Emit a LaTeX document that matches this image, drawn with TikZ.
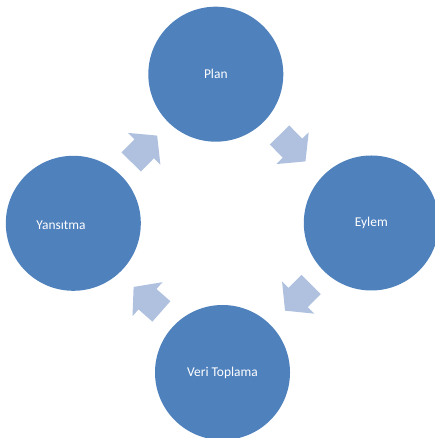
\documentclass[tikz,border=0pt]{standalone}
\usepackage{fontspec}
\setmainfont{Carlito}
\definecolor{stageblue}{HTML}{4F81BD}
\definecolor{arrowblue}{HTML}{AFC1DF}
\begin{document}
\begin{tikzpicture}[x=1bp,y=1bp,
  stage/.style={circle, fill=stageblue, minimum size=135bp, inner sep=0pt,
    text=white, font=\fontsize{13.5}{16}\selectfont},
  cyclearrow/.pic={
    \fill[arrowblue] (-18.5,-13.6) -- (0,-13.6) -- (0,-22.7) -- (18.5,0)
      -- (0,22.7) -- (0,13.6) -- (-18.5,13.6) -- cycle;
  }]
\useasboundingbox (0,0) rectangle (435,438);
% four stages of the cycle
\node[stage] (plan)  at (215.8,363.8) {Plan};
\node[stage] (eylem) at (371.3,215.0) {Eylem};
\node[stage] (veri)  at (222.5,65.5)  {Veri Toplama};
\node[stage] (yans)  at (73.3,214.7)  {};
\node[text=white, font=\fontsize{13.5}{16}\selectfont] (yanslabel) at (61,213) {Yansıtma};
% block arrows running clockwise between the stages
\pic[rotate=45.5]  at (144.2,289.2) {cyclearrow};
\pic[rotate=-45.6] at (292.5,289.8) {cyclearrow};
\pic[rotate=-135]  at (298.1,140.4) {cyclearrow};
\pic[rotate=138.6] at (147.5,138.8) {cyclearrow};
\end{tikzpicture}
\end{document}
